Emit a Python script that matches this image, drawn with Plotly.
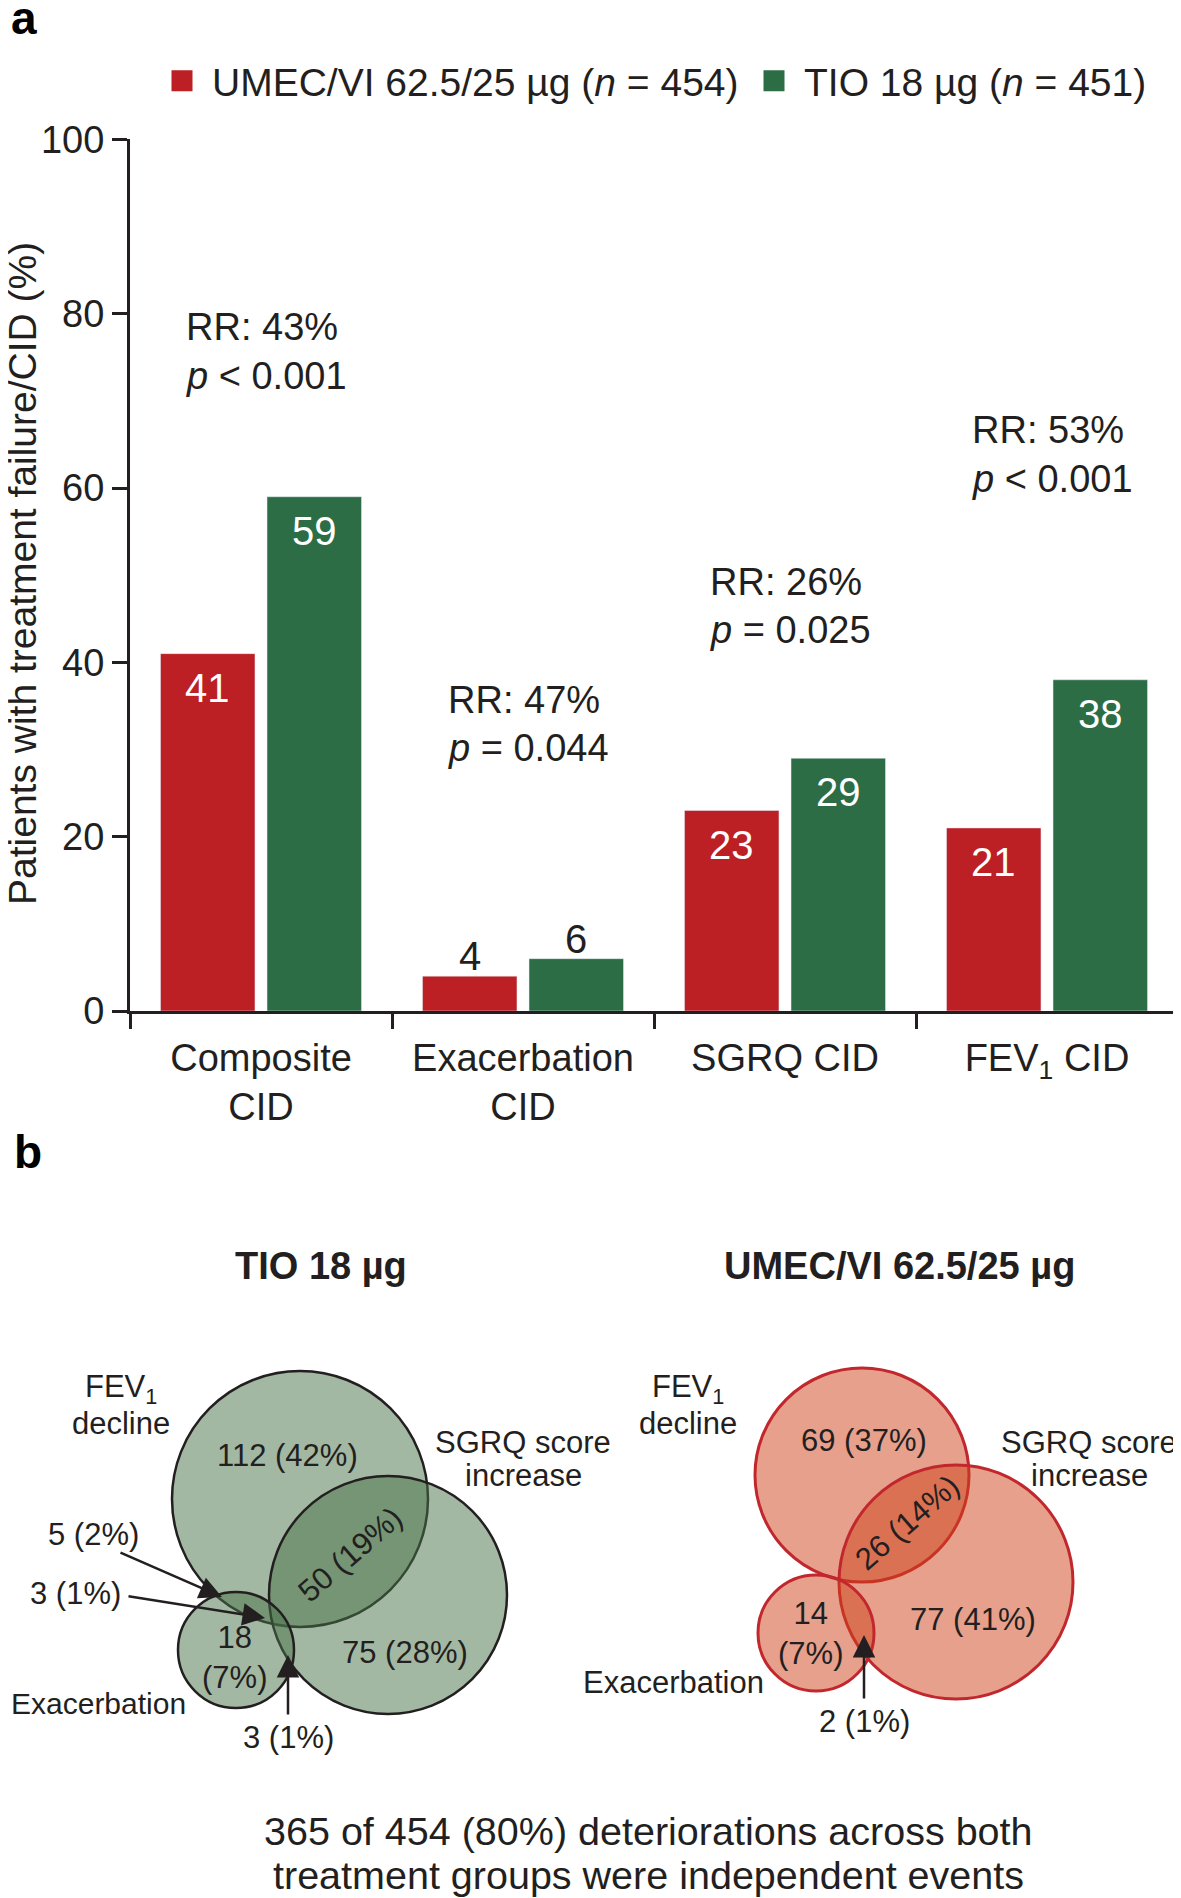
import plotly.graph_objects as go

# ---------------- data ----------------
categories = ["Composite CID", "Exacerbation CID", "SGRQ CID", "FEV1 CID"]
tick_labels = ["Composite<br>CID", "Exacerbation<br>CID", "SGRQ CID", "FEV<sub>1</sub> CID"]
umec_vals = [41, 4, 23, 21]
tio_vals = [59, 6, 29, 38]
rr_pct = [43, 47, 26, 53]
p_text = ["< 0.001", "= 0.044", "= 0.025", "< 0.001"]
y_ticks = [0, 20, 40, 60, 80, 100]
y_title = "Patients with treatment failure/CID (%)"
umec_name = "UMEC/VI 62.5/25 µg (<i>n</i> = 454)"
tio_name = "TIO 18 µg (<i>n</i> = 451)"

# Venn (panel b) region counts / percentages
tio_regions = ["FEV1 only", "FEV1+SGRQ", "SGRQ only", "Exac only", "FEV1+Exac", "FEV1+SGRQ+Exac", "SGRQ+Exac"]
tio_counts = [112, 50, 75, 18, 5, 3, 3]
tio_pcts = [42, 19, 28, 7, 2, 1, 1]
umec_regions = ["FEV1 only", "FEV1+SGRQ", "SGRQ only", "Exac only", "SGRQ+Exac"]
umec_counts = [69, 26, 77, 14, 2]
umec_pcts = [37, 14, 41, 7, 1]
footnote = ["365 of 454 (80%) deteriorations across both",
            "treatment groups were independent events"]

# ---------------- style / layout constants ----------------
OFF = 8                      # page body margin
W, H = 1181 - OFF, 1898 - OFF
FONT = "Liberation Sans, Arial, sans-serif"
INK = "#231F20"
RED = "#BC1F24"
GREEN = "#2D6D46"

def px(x):
    return (x - OFF) / W

def py(y):
    return 1 - (y - OFF) / H

# plot area in page pixels
X0, X1 = 130, 1178
Y_TOP, Y_BOT = 139.4, 1011
BARGAP, BARGROUPGAP = 0.187, 0.113
slot_shift = (X1 - X0) / len(categories) * (1 - BARGAP) / 4

fig = go.Figure()
fig.add_trace(go.Bar(x=categories, y=umec_vals, name=umec_name, marker_color=RED,
                     showlegend=False, hoverinfo="skip"))
fig.add_trace(go.Bar(x=categories, y=tio_vals, name=tio_name, marker_color=GREEN,
                     showlegend=False, hoverinfo="skip"))
# legend entries (bigger square swatches)
for nm, col, lw in [(umec_name, RED, 527), (tio_name, GREEN, None)]:
    fig.add_trace(go.Scatter(x=[None], y=[None], mode="markers", name=nm,
                             legendwidth=lw,
                             marker=dict(symbol="square", size=16, color=col,
                                         line=dict(width=5, color=col))))

annotations = []
# bar value labels
for vals, sign in [(umec_vals, -1), (tio_vals, 1)]:
    for c, v in zip(categories, vals):
        inside = v >= 10
        annotations.append(dict(
            x=c, y=v, xref="x", yref="y", text=str(v), showarrow=False,
            xshift=sign * slot_shift, yshift=-34 if inside else 20,
            font=dict(family=FONT, size=40, color="white" if inside else INK),
            xanchor="center", yanchor="middle"))

# RR / p annotations (positions in axis units)
rr_pos = [(78.5, 72.9), (35.7, 30.2), (49.2, 43.7), (66.7, 61.0)]
for c, rr, pt, (y1, y2) in zip(categories, rr_pct, p_text, rr_pos):
    annotations.append(dict(x=c, y=y1, xref="x", yref="y", text=f"RR: {rr}%",
                            showarrow=False, xanchor="left", yanchor="middle", xshift=-77,
                            font=dict(family=FONT, size=38, color=INK)))
    annotations.append(dict(x=c, y=y2, xref="x", yref="y", text=f"<i>p</i> {pt}",
                            showarrow=False, xanchor="left", yanchor="middle", xshift=-77,
                            font=dict(family=FONT, size=38, color=INK)))

# y-axis title
annotations.append(dict(x=px(22), y=py(574), xref="paper", yref="paper", text=y_title,
                        showarrow=False, textangle=-90, xanchor="center", yanchor="middle",
                        font=dict(family=FONT, size=39, color=INK)))

# panel letters
annotations.append(dict(x=px(9), y=py(18), xref="paper", yref="paper", text="<b>a</b>",
                        showarrow=False, xanchor="left", yanchor="middle",
                        font=dict(family=FONT, size=46, color="black")))
annotations.append(dict(x=px(12), y=py(1152), xref="paper", yref="paper", text="<b>b</b>",
                        showarrow=False, xanchor="left", yanchor="middle",
                        font=dict(family=FONT, size=46, color="black")))

# ---------------- Venn diagrams ----------------
shapes = []
def circle(cx, cy, r, fill, line, lw):
    shapes.append(dict(type="circle", xref="paper", yref="paper",
                       x0=px(cx - r), x1=px(cx + r), y0=py(cy + r), y1=py(cy - r),
                       fillcolor=fill, line=dict(color=line, width=lw), layer="above"))

GFILL = "rgba(71,113,71,0.5)"
RFILL = "rgba(207,65,25,0.5)"
tio_circles = [(300, 1499, 128), (388, 1595, 119), (236, 1650, 58)]
umec_circles = [(862, 1475, 107), (956, 1582, 117), (816, 1633, 58)]
for cx, cy, r in tio_circles:
    circle(cx, cy, r, GFILL, INK, 2.5)
for cx, cy, r in umec_circles:
    circle(cx, cy, r, RFILL, "#C1272D", 3)

def label(x, y, text, size=31, angle=0, bold=False, xanchor="center"):
    annotations.append(dict(x=px(x), y=py(y), xref="paper", yref="paper",
                            text=f"<b>{text}</b>" if bold else text, showarrow=False,
                            textangle=angle, xanchor=xanchor, yanchor="middle",
                            font=dict(family=FONT, size=size, color=INK)))

def arrow(tail, tip):
    annotations.append(dict(x=px(tip[0]), y=py(tip[1]), xref="paper", yref="paper",
                            ax=tail[0] - tip[0], ay=tail[1] - tip[1], text="",
                            showarrow=True, arrowhead=2, arrowsize=1.8, arrowwidth=2.5,
                            arrowcolor=INK, standoff=0))

label(321, 1266, "TIO 18 µg", size=38, bold=True)
label(900, 1266, "UMEC/VI 62.5/25 µg", size=38, bold=True)

def fmt(n, p, br=False):
    return f"{n}<br>({p}%)" if br else f"{n} ({p}%)"

tio_pos = {"FEV1 only": (287, 1455, 0), "FEV1+SGRQ": (350, 1554, -41),
           "SGRQ only": (405, 1652, 0), "Exac only": (234, 1657, 0),
           "FEV1+Exac": (93, 1534, 0), "FEV1+SGRQ+Exac": (75, 1593, 0),
           "SGRQ+Exac": (288, 1737, 0)}
for reg, n, p in zip(tio_regions, tio_counts, tio_pcts):
    x, y, a = tio_pos[reg]
    label(x, y, fmt(n, p, reg == "Exac only"), angle=a)
umec_pos = {"FEV1 only": (864, 1440, 0), "FEV1+SGRQ": (907, 1522, -41),
            "SGRQ only": (973, 1619, 0), "Exac only": (810, 1633, 0),
            "SGRQ+Exac": (864, 1721, 0)}
for reg, n, p in zip(umec_regions, umec_counts, umec_pcts):
    x, y, a = umec_pos[reg]
    label(x, y, fmt(n, p, reg == "Exac only"), angle=a)

arrow((119, 1552), (222, 1597))
arrow((127, 1596), (265, 1618))
arrow((288, 1716), (288, 1655))
arrow((864, 1700), (864, 1635))

# set names
for fx, sx in [(121, 523), (688, 1089)]:
    label(fx, 1389, "FEV<sub>1</sub>")
    label(fx, 1423, "decline")
    label(sx, 1442, "SGRQ score")
    label(sx, 1475, "increase")
label(98, 1703, "Exacerbation", size=30)
label(673, 1682, "Exacerbation")

label(648, 1831, footnote[0], size=39.5)
label(648, 1875, footnote[1], size=39.5)

axis_font = dict(family=FONT, size=38, color=INK)
fig.update_layout(
    width=W, height=H, margin=dict(l=0, r=0, t=0, b=0, autoexpand=False),
    paper_bgcolor="white", plot_bgcolor="rgba(0,0,0,0)",
    barmode="group", bargap=BARGAP, bargroupgap=BARGROUPGAP,
    font=dict(family=FONT, color=INK),
    showlegend=True,
    legend=dict(orientation="h", x=px(152), y=py(81), xanchor="left", yanchor="middle",
                font=dict(family=FONT, size=39, color=INK), bgcolor="rgba(0,0,0,0)",
                itemsizing="trace", itemwidth=50),
    xaxis=dict(domain=[px(X0), px(X1)], type="category", categoryorder="array",
               categoryarray=categories, tickvals=categories, ticktext=tick_labels,
               showline=True, linewidth=3, linecolor=INK, ticks="outside",
               tickson="boundaries", ticklen=15, tickwidth=3, tickcolor=INK,
               tickfont=axis_font, showgrid=False, zeroline=False, fixedrange=True,
               automargin=False, ticklabelstandoff=11),
    yaxis=dict(domain=[py(Y_BOT), py(Y_TOP)], range=[0, 100], tickvals=y_ticks,
               showline=True, linewidth=3, linecolor=INK, ticks="outside",
               ticklen=15, tickwidth=3, tickcolor=INK, tickfont=axis_font,
               showgrid=False, zeroline=False, fixedrange=True, automargin=False),
    annotations=annotations,
    shapes=shapes,
)

fig.write_html("out.html")
